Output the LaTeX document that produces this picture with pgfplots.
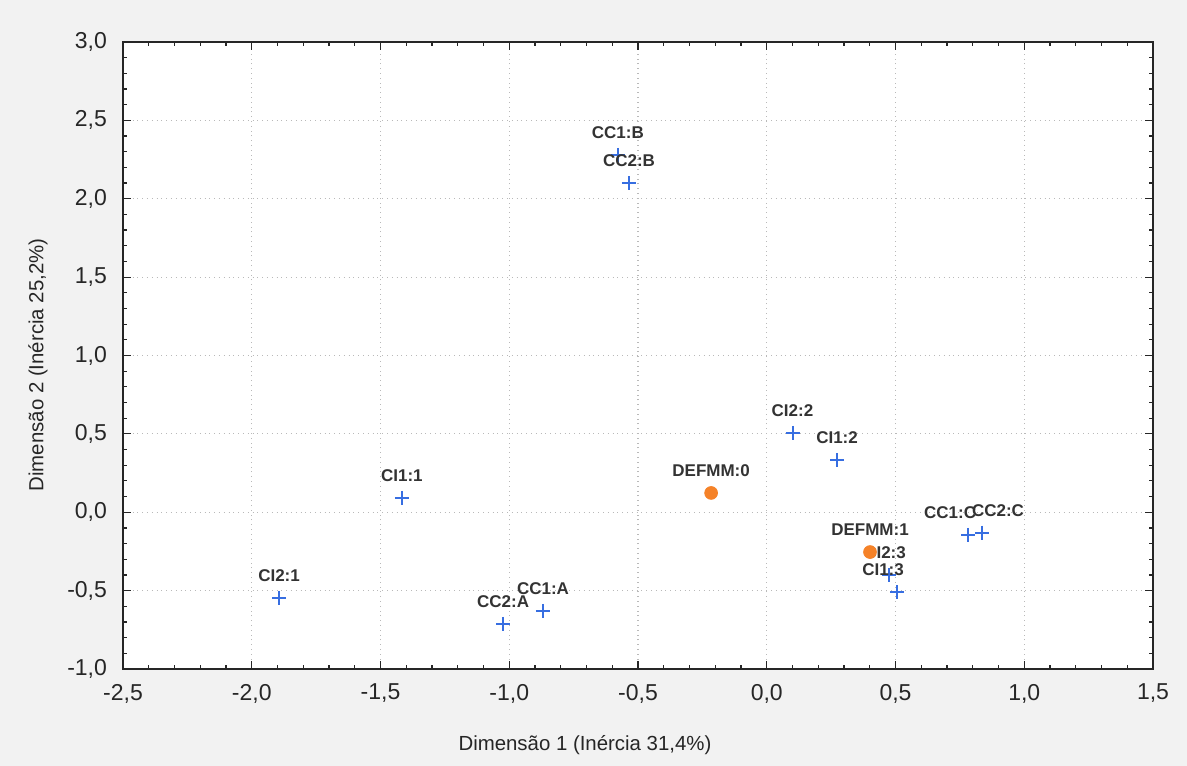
\documentclass[border=0pt]{standalone}
\usepackage{fontspec}
\setmainfont{Liberation Sans}
\usepackage{pgfplots}
\usepackage{pgfplotstable}
\pgfplotsset{compat=1.18}
\usetikzlibrary{backgrounds}
\definecolor{ptblue}{RGB}{55,110,225}
\definecolor{ptorange}{RGB}{245,130,40}
\definecolor{bgcol}{RGB}{242,242,242}

\pgfplotstableread{
x y label dx
-0.578 2.28 CC1:B 0
-0.535 2.10 CC2:B 0
0.100 0.506 CI2:2 0
0.273 0.333 CI1:2 0
0.475 -0.40 CI2:3 -2
0.506 -0.509 CI1:3 -7
0.782 -0.145 CC1:C -9
0.836 -0.13 CC2:C 8
-1.417 0.091 CI1:1 0
-1.894 -0.547 CI2:1 0
-1.024 -0.713 CC2:A 0
-0.869 -0.63 CC1:A 0
}\bluedata

\pgfplotstableread{
x y label dx
-0.216 0.123 DEFMM:0 0
0.401 -0.254 DEFMM:1 0
}\orangedata

\begin{document}
\begin{tikzpicture}
\begin{axis}[
  scale only axis,
  width=515pt, height=313.5pt,
  xmin=-2.5, xmax=1.5, ymin=-1, ymax=3,
  xtick={-2.5,-2,...,1.5},
  ytick={-1,-0.5,...,3},
  minor x tick num=4,
  minor y tick num=4,
  tick align=inside,
  major tick length=4pt,
  minor tick length=2pt,
  tick style={black!85, line width=0.6pt},
  axis line style={black!85, line width=1.2pt},
  axis background/.style={fill=white},
  grid=major,
  major grid style={gray!55, dotted, line width=0.6pt},
  /pgf/number format/.cd, fixed, fixed zerofill, precision=1, use comma, assume math mode=true,
  /pgfplots/.cd,
  ticklabel style={font=\fontsize{11.5}{13}\selectfont, text=black!85},
  yticklabel style={xshift=-4.5pt},
  xticklabel style={yshift=-4pt},
  xlabel={Dimensão 1 (Inércia 31,4\%)},
  ylabel={Dimensão 2 (Inércia 25,2\%)},
  label style={font=\fontsize{10.2}{12}\selectfont, text=black!85},
  xlabel style={at={(rel axis cs:0.4485,0)}, anchor=center, yshift=-38pt},
  ylabel style={at={(rel axis cs:0,0.485)}, anchor=center, yshift=42.5pt},
  clip=false,
  nodes near coords,
  point meta=explicit symbolic,
  visualization depends on={\thisrow{dx} \as \dx},
  nodes near coords style={anchor=center, yshift=11pt, xshift=\dx pt,
    font=\fontsize{8.5}{10}\selectfont\bfseries, text=black!80, inner sep=0pt},
]
\addplot[only marks, mark=+, mark size=3.5pt, ptblue, line width=1pt]
  table[x=x, y=y, meta=label] {\bluedata};
\addplot[only marks, mark=*, mark size=3.2pt, ptorange, mark options={draw=ptorange, fill=ptorange}]
  table[x=x, y=y, meta=label] {\orangedata};
\end{axis}
\begin{scope}[on background layer]
\fill[bgcol] ([xshift=-61.5pt,yshift=-48.5pt]current axis.south west) rectangle ([xshift=17pt,yshift=21pt]current axis.north east);
\end{scope}
\path[use as bounding box] ([xshift=-61.5pt,yshift=-48.5pt]current axis.south west) rectangle ([xshift=17pt,yshift=21pt]current axis.north east);
\end{tikzpicture}
\end{document}
